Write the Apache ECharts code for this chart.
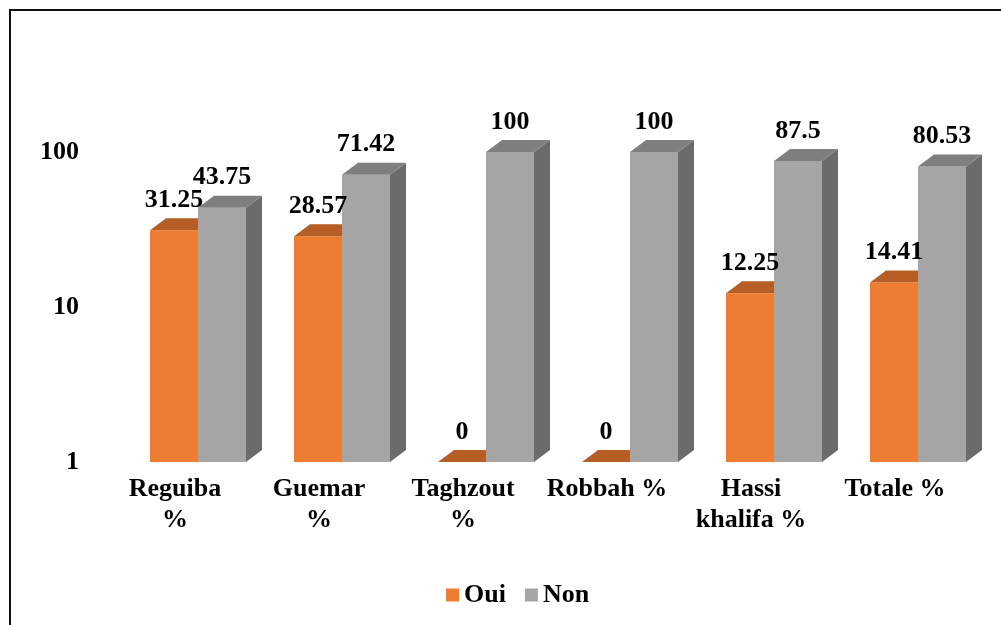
<!DOCTYPE html>
<html>
<head>
<meta charset="utf-8">
<script src="https://cdn.jsdelivr.net/npm/echarts@6/dist/echarts.min.js"></script>
<style>
  html, body { margin: 0; padding: 0; background: #fff; }
  #chart { width: 1001px; height: 625px; }
</style>
</head>
<body>
<div id="chart"></div>
<script>
// 데이터
const categories = ['Reguiba\n%', 'Guemar\n%', 'Taghzout\n%', 'Robbah %', 'Hassi\nkhalifa %', 'Totale %'];
const ouiValues = [31.25, 28.57, 0, 0, 12.25, 14.41];
const nonValues = [43.75, 71.42, 100, 100, 87.5, 80.53];

const FONT = '"Liberation Serif", "Times New Roman", serif';
const DX = 16, DY = 12; // 3D 깊이

// 막대 하나 그리기 (앞면 + 옆면 + 윗면)
function bar3d(offset, front, top, side) {
	return function (params, api) {
		const idx = api.value(0);
		const v = Math.max(api.value(1), 1); // 0은 로그축 바닥(1)에 납작하게
		const p = api.coord([idx, v]);
		const base = api.coord([idx, 1]);
		const w = api.size([1, 0])[0] / 3;
		const x0 = p[0] + offset * w - 25;
		const x1 = x0 + w;
		const y = p[1];
		const yb = base[1];
		return {
			type: 'group',
			children: [
				{ type: 'rect', shape: { x: x0, y: y, width: w, height: yb - y }, style: { fill: front } },
				{ type: 'polygon', shape: { points: [[x1, y], [x1 + DX, y - DY], [x1 + DX, yb - DY], [x1, yb]] }, style: { fill: side } },
				{ type: 'polygon', shape: { points: [[x0, y], [x0 + DX, y - DY], [x1 + DX, y - DY], [x1, y]] }, style: { fill: top } }
			]
		};
	};
}

// 값 라벨 (막대 위)
function label3d(offset) {
	return function (params, api) {
		const idx = api.value(0);
		const raw = api.value(1);
		const p = api.coord([idx, Math.max(raw, 1)]);
		const w = api.size([1, 0])[0] / 3;
		const x0 = p[0] + offset * w - 25;
		return {
			type: 'text',
			x: x0 + w / 2,
			y: p[1] - DY - 5,
			style: {
				text: String(raw),
				fill: '#000',
				fontSize: 26,
				fontWeight: 'bold',
				fontFamily: FONT,
				align: 'center',
				verticalAlign: 'bottom'
			}
		};
	};
}

const ouiData = ouiValues.map((v, i) => [i, v]);
const nonData = nonValues.map((v, i) => [i, v]);

const chart = echarts.init(document.getElementById('chart'));

const option = {
	animation: false,
	graphic: [
		{
			type: 'rect',
			shape: { x: 10, y: 10, width: 1200, height: 800 },
			style: { fill: 'none', stroke: '#111', lineWidth: 2 },
			silent: true
		}
	],
	legend: {
		data: ['Oui', 'Non'],
		left: 441,
		top: 577,
		icon: 'rect',
		itemWidth: 13,
		itemHeight: 13,
		itemGap: 19,
		textStyle: { fontSize: 26, fontWeight: 'bold', fontFamily: FONT, color: '#000' }
	},
	grid: { left: 103, right: 34, top: 152, bottom: 163 },
	xAxis: {
		type: 'category',
		data: categories,
		axisLine: { show: false },
		axisTick: { show: false },
		axisLabel: {
			interval: 0,
			margin: 12,
			fontSize: 26,
			fontWeight: 'bold',
			fontFamily: FONT,
			color: '#000',
			lineHeight: 31,
			verticalAlign: 'top'
		}
	},
	yAxis: {
		type: 'log',
		logBase: 10,
		min: 1,
		max: 100,
		axisLine: { show: false },
		axisTick: { show: false },
		splitLine: { show: false },
		axisLabel: {
			margin: 24,
			fontSize: 26,
			fontWeight: 'bold',
			fontFamily: FONT,
			color: '#000'
		}
	},
	series: [
		{
			name: 'Oui',
			type: 'custom',
			data: ouiData,
			itemStyle: { color: '#ED7D31' },
			renderItem: bar3d(0, '#ED7D31', '#B65E24', '#B65E24'),
			z: 2
		},
		{
			name: 'Non',
			type: 'custom',
			data: nonData,
			itemStyle: { color: '#A5A5A5' },
			renderItem: bar3d(1, '#A5A5A5', '#7F7F7F', '#6B6B6B'),
			z: 3
		},
		{
			name: 'ouiLabel',
			type: 'custom',
			data: ouiData,
			renderItem: label3d(0),
			z: 5
		},
		{
			name: 'nonLabel',
			type: 'custom',
			data: nonData,
			renderItem: label3d(1),
			z: 5
		}
	]
};

chart.setOption(option);
</script>
</body>
</html>
